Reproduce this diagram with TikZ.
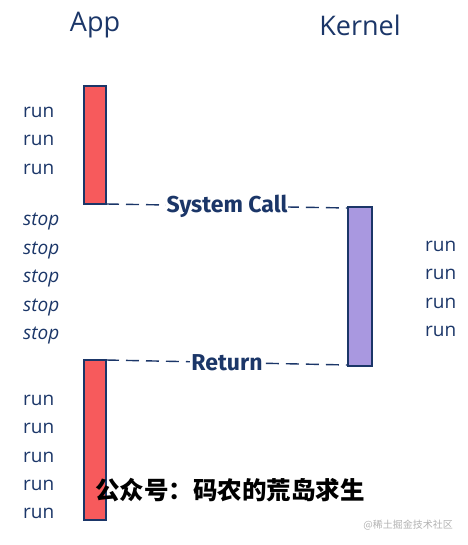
\documentclass[tikz,border=0pt]{standalone}
\usepackage{fontspec}
\setmainfont{Open Sans}
\newfontfamily\cjk{Noto Sans CJK SC}
\newfontfamily\lblfont{Fira Sans}
\definecolor{navy}{HTML}{1B3668}
\definecolor{barred}{HTML}{F75A5C}
\definecolor{barpurple}{HTML}{A998E0}
\begin{document}
\begin{tikzpicture}[x=1pt,y=-1pt,
  bar/.style={draw=navy,line width=1.4pt},
  runlbl/.style={anchor=west,text=navy,font=\fontsize{19}{19}\selectfont,inner sep=0pt},
  stoplbl/.style={anchor=west,text=navy,font=\fontsize{19}{19}\selectfont\itshape,inner sep=0pt},
  head/.style={text=navy,font=\fontsize{27}{27}\selectfont,inner sep=0pt},
  msg/.style={draw=navy,line width=1.4pt,dash pattern=on 13pt off 7pt},
  msglbl/.style={fill=white,text=navy,font=\lblfont\bfseries\fontsize{23}{23}\selectfont,inner sep=1pt}]
\useasboundingbox (0,0) rectangle (467,545);
\node[head] (app) at (95,25) {App};
\node[head] (kernel) at (360,25) {Kernel};
\filldraw[bar,fill=barred] (84,86) rectangle (106,204);
\filldraw[bar,fill=barpurple] (348,207) rectangle (372,366);
\coordinate (r1) at (106,204);
\coordinate (k1) at (348,208);
\coordinate (r2) at (106,360);
\coordinate (k2) at (348,365);
\draw[msg] (r1) -- (k1) node[midway,msglbl] (sc) {System Call};
\draw[msg] (r2) -- (k2) node[midway,msglbl] (ret) {Return};
\filldraw[bar,fill=barred] (84,360) rectangle (106,520);
\foreach \y/\n in {112/a1,140/a2,169/a3,400/a4,428/a5,457/a6,485/a7,513/a8}
  \node[runlbl] (\n) at (23,\y) {run};
\foreach \y/\n in {222/s1,251/s2,279/s3,308/s4,336/s5}
  \node[stoplbl] (\n) at (23,\y) {stop};
\foreach \y/\n in {246/k1r,274/k2r,303/k3r,331/k4r}
  \node[runlbl] (\n) at (425,\y) {run};
\node[anchor=west,inner sep=0pt,font=\cjk\bfseries\fontsize{24.5}{24.5}\selectfont] (gzh) at (95,490) {公众号：码农的荒岛求生};
\node[anchor=east,inner sep=0pt,text=gray!60,font=\cjk\fontsize{10}{10}\selectfont] (wm) at (453,525) {@稀土掘金技术社区};
\end{tikzpicture}
\end{document}
